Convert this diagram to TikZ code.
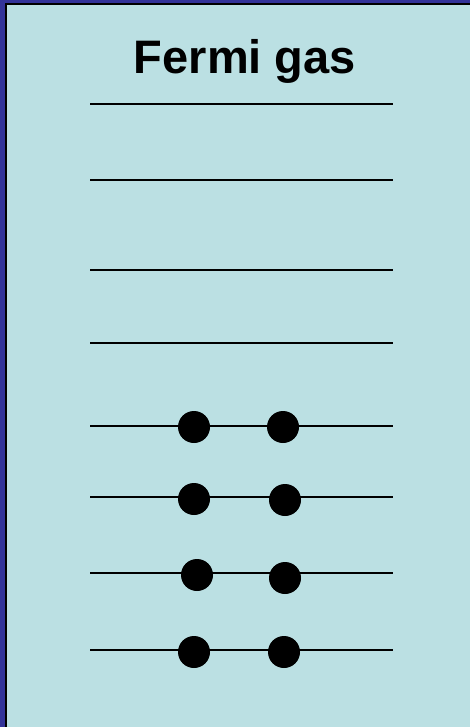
\documentclass[tikz,border=0pt]{standalone}
\usepackage{fontspec}
\setmainfont{Liberation Sans}
\definecolor{bgfill}{HTML}{BBE0E3}
\definecolor{frameblue}{HTML}{333399}
\tikzset{
  level/.style={line width=2pt, black},
  fermion/.style={circle, fill=black, minimum size=32pt, inner sep=0pt},
}
\begin{document}
\begin{tikzpicture}[x=1pt,y=-1pt]
\useasboundingbox (0,0) rectangle (470,727);
\fill[frameblue] (0,0) rectangle (470,727);
\fill[black] (5,3) rectangle (470,727);
\fill[bgfill] (7,5) rectangle (470,727);
\node[font=\bfseries\fontsize{47}{56}\selectfont, anchor=base] (title) at (245,74) {Fermi gas};
\foreach \n/\y in {1/104,2/180,3/270,4/343,5/426,6/497,7/573,8/650}{
  \coordinate (l\n) at (90,\y);
  \coordinate (r\n) at (393,\y);
  \draw[level] (l\n) -- (r\n);
}
\node[fermion] (a5) at (194,427) {};
\node[fermion] (b5) at (283,427) {};
\node[fermion] (a6) at (194,499) {};
\node[fermion] (b6) at (285,500) {};
\node[fermion] (a7) at (197,575) {};
\node[fermion] (b7) at (285,578) {};
\node[fermion] (a8) at (194,652) {};
\node[fermion] (b8) at (284,652) {};
\end{tikzpicture}
\end{document}
